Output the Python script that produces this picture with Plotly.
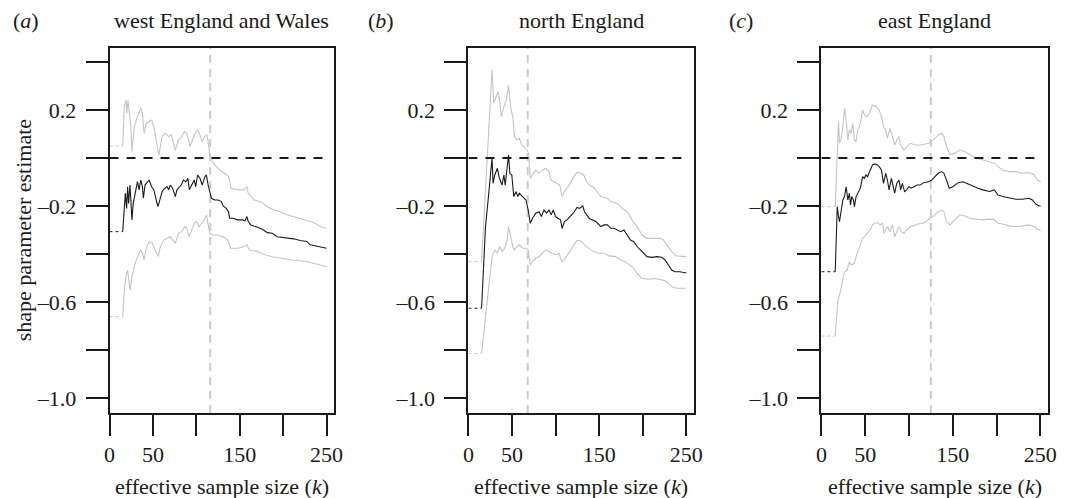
import plotly.graph_objects as go

# ---------------- data ----------------
panel_titles = ["west England and Wales", "north England", "east England"]
panel_letters = ["a", "b", "c"]
k_threshold = [116, 68, 125]

x_tickvals = [0, 50, 100, 150, 200, 250]
x_ticktext = ["0", "50", "", "150", "", "250"]
y_tickvals = [-1.0, -0.8, -0.6, -0.4, -0.2, 0.0, 0.2, 0.4]
y_ticktext = ["\u20131.0", "", "\u20130.6", "", "\u20130.2", "", "0.2", ""]

# panel (a) west England and Wales
a_est_k = [15.2, 18.2, 19.7, 20.8, 22, 23.5, 24.6, 25.8, 27.3, 29.5, 32.2, 34.1, 36, 37.9, 39, 40.9, 43.6, 45.5, 48.5,
           51.1, 53.8, 55.7, 58, 60.6, 63.6, 66.3, 68.2, 70, 72.7, 75.8, 77.7, 79.5, 82.6, 85.2, 87.9, 90.2, 92, 94.7,
           97.7, 99.2, 101.5, 104.2, 106.8, 109.8, 111.7, 113.6, 115.5, 117.4, 121.2, 125, 128.8, 131, 134.5, 137.1,
           138.3, 142, 147.7, 153.4, 156.1, 158.3, 159.8, 162.9, 170.5, 176.1, 181.8, 187.5, 193.2, 198.9, 204.5,
           212.1, 219.7, 227.3, 231.1, 236.7, 242.4, 248.1, 250]
a_est_v = [-0.307, -0.147, -0.21, -0.12, -0.19, -0.113, -0.175, -0.258, -0.189, -0.147, -0.099, -0.133, -0.092, -0.12,
           -0.168, -0.113, -0.099, -0.092, -0.12, -0.133, -0.175, -0.203, -0.175, -0.14, -0.126, -0.12, -0.133, -0.113,
           -0.126, -0.161, -0.133, -0.126, -0.113, -0.092, -0.099, -0.085, -0.133, -0.113, -0.092, -0.12, -0.071,
           -0.085, -0.113, -0.078, -0.071, -0.113, -0.147, -0.168, -0.175, -0.175, -0.182, -0.2, -0.21, -0.224,
           -0.251, -0.251, -0.258, -0.258, -0.262, -0.244, -0.265, -0.279, -0.289, -0.297, -0.311, -0.314, -0.328,
           -0.33, -0.335, -0.337, -0.344, -0.348, -0.362, -0.367, -0.369, -0.376, -0.376]
a_up_k = [15.2, 17, 18.9, 20, 21.2, 22.7, 24.6, 25.8, 28.4, 32.2, 36, 37.9, 39.8, 42.4, 45.5, 48.5, 51.1, 54.9, 56.8,
          60.6, 64.4, 68.2, 71.2, 73.9, 75.8, 79.5, 83.3, 86.4, 89, 90.9, 92.8, 95.5, 98.5, 101.5, 104.2, 106.8, 109.8,
          112.1, 113.6, 115.5, 117.4, 121.2, 126.9, 132.6, 137.1, 140.2, 147.7, 155.3, 158.3, 159.8, 166.7, 174.2,
          181.8, 189.4, 197, 204.5, 210.2, 215.9, 223.5, 231.1, 238.6, 244.3, 250]
a_up_v = [0.05, 0.214, 0.241, 0.186, 0.24, 0.2, 0.13, 0.027, 0.13, 0.172, 0.207, 0.186, 0.103, 0.144, 0.151, 0.158,
          0.13, 0.04, 0.012, 0.089, 0.103, 0.089, 0.096, 0.061, 0.033, 0.075, 0.089, 0.11, 0.103, 0.075, 0.047, 0.075,
          0.103, 0.117, 0.096, 0.068, 0.089, 0.096, 0.068, 0.012, -0.008, -0.029, -0.05, -0.064, -0.078, -0.126,
          -0.133, -0.133, -0.119, -0.147, -0.175, -0.182, -0.203, -0.217, -0.224, -0.237, -0.243, -0.247, -0.255,
          -0.265, -0.275, -0.289, -0.293]
a_lo_k = [15.2, 17, 18.9, 20.8, 22.7, 23.9, 25.8, 28.4, 32.2, 36, 37.9, 39.8, 42.4, 45.5, 49.2, 53, 56, 58.7, 62.5,
          66.3, 70, 72.7, 75.8, 79.5, 83.3, 86.4, 89, 91.7, 94.7, 97.7, 100.4, 103, 106, 109.1, 111.7, 113.6, 115.5,
          119.3, 125, 130.7, 136.4, 139.4, 147.7, 155.3, 158.3, 161, 170.5, 180, 189.4, 198.9, 208.3, 217.8, 227.3,
          234.8, 242.4, 250]
a_lo_v = [-0.661, -0.55, -0.494, -0.467, -0.522, -0.55, -0.494, -0.453, -0.411, -0.383, -0.397, -0.425, -0.376,
          -0.349, -0.355, -0.383, -0.411, -0.369, -0.342, -0.335, -0.328, -0.342, -0.355, -0.314, -0.307, -0.286,
          -0.293, -0.328, -0.3, -0.272, -0.265, -0.286, -0.272, -0.258, -0.238, -0.272, -0.314, -0.321, -0.321,
          -0.328, -0.342, -0.376, -0.376, -0.369, -0.362, -0.383, -0.39, -0.404, -0.414, -0.418, -0.425, -0.428,
          -0.432, -0.439, -0.446, -0.453]

# panel (b) north England
b_est_k = [15.1, 17, 19.6, 22.6, 25.6, 27.1, 28.3, 30.2, 33.2, 35.1, 38.5, 40.7, 42.2, 44.5, 46, 47.5, 49.8, 52, 54.7,
           56.6, 58.4, 62.2, 66, 68.6, 70.9, 73.5, 77.3, 81.1, 83.7, 86.7, 89.7, 92.4, 95, 97.3, 99.9, 102.6, 105.6,
           107.5, 110.1, 113.1, 116.9, 120.7, 124.6, 127.4, 131.2, 133.1, 138.7, 146.3, 151.9, 155.7, 159.5, 163.3,
           167, 170.8, 174.6, 178.4, 182.1, 185.9, 189.7, 193.5, 197.3, 201, 204.8, 210.5, 216.1, 221.8, 225.6,
           229.4, 233.1, 236.9, 242.6, 248.2, 250]
b_est_v = [-0.626, -0.453, -0.286, -0.175, -0.05, 0.0, -0.106, -0.071, -0.043, -0.078, -0.113, -0.071, -0.113, -0.036,
           0.012, -0.064, -0.071, -0.161, -0.14, -0.161, -0.147, -0.161, -0.175, -0.217, -0.272, -0.251, -0.23,
           -0.224, -0.244, -0.217, -0.23, -0.217, -0.237, -0.217, -0.244, -0.251, -0.258, -0.293, -0.265, -0.258,
           -0.244, -0.228, -0.206, -0.21, -0.2, -0.224, -0.252, -0.265, -0.286, -0.279, -0.279, -0.293, -0.293,
           -0.3, -0.307, -0.3, -0.321, -0.342, -0.349, -0.369, -0.383, -0.397, -0.411, -0.414, -0.411, -0.414,
           -0.425, -0.446, -0.467, -0.474, -0.474, -0.478, -0.478]
b_up_k = [15.1, 22.6, 27.1, 29, 32, 33.9, 35.8, 37.7, 40.7, 43.4, 46, 48.3, 50.9, 52.8, 55.8, 58.4, 61.1, 64.1, 67.1,
          69, 70.9, 73.5, 77.3, 81.1, 84.8, 88.6, 92.4, 95, 98.8, 101.8, 104.8, 107.5, 110.1, 113.1, 116.9, 120.7,
          124.6, 129.3, 132.3, 136.8, 144.4, 151.9, 159.5, 163.3, 170.8, 176.5, 182.1, 187.8, 193.5, 199.2, 204.8,
          212.3, 219.9, 223.6, 227.4, 233.1, 238.7, 244.4, 250]
b_up_v = [-0.432, 0.075, 0.367, 0.228, 0.256, 0.276, 0.24, 0.172, 0.214, 0.24, 0.304, 0.214, 0.172, 0.089, 0.075, 0.082,
          0.054, 0.047, 0.033, 0.019, -0.085, -0.071, -0.05, -0.064, -0.05, -0.043, -0.057, -0.092, -0.099, -0.106,
          -0.113, -0.161, -0.14, -0.126, -0.106, -0.08, -0.06, -0.064, -0.071, -0.106, -0.126, -0.161, -0.168,
          -0.182, -0.189, -0.21, -0.224, -0.258, -0.286, -0.321, -0.335, -0.335, -0.335, -0.342, -0.362, -0.39,
          -0.408, -0.408, -0.411]
b_lo_k = [15.1, 27.1, 30.2, 33.2, 35.8, 38.5, 41.5, 44.5, 46, 48.3, 50.9, 52.8, 55.8, 58.4, 62.2, 66, 68.6, 70.9, 73.5,
          77.3, 81.1, 84.8, 88.6, 92.4, 96.2, 99.9, 103.7, 107.5, 111.2, 115, 119.9, 124.6, 129.3, 133.1, 140.6,
          148.2, 155.7, 161.4, 168.9, 174.6, 180.2, 187.8, 193.5, 199.2, 206.7, 214.3, 221.8, 227.4, 233.1, 238.7,
          246.3, 250]
b_lo_v = [-0.814, -0.411, -0.383, -0.397, -0.369, -0.39, -0.376, -0.342, -0.286, -0.328, -0.369, -0.383, -0.369,
          -0.362, -0.376, -0.376, -0.383, -0.446, -0.432, -0.418, -0.411, -0.397, -0.383, -0.39, -0.397, -0.404,
          -0.397, -0.432, -0.418, -0.397, -0.369, -0.343, -0.346, -0.362, -0.383, -0.397, -0.397, -0.408, -0.411,
          -0.425, -0.432, -0.453, -0.481, -0.502, -0.505, -0.502, -0.508, -0.515, -0.536, -0.543, -0.543, -0.543]

# panel (c) east England
c_est_k = [15.8, 18.1, 19.6, 20.7, 22.6, 24.5, 26.4, 28.3, 30.2, 32, 33.2, 34.7, 36.6, 37.7, 39.6, 41.5, 44.5, 47.1, 49,
           50.9, 52.8, 55.8, 58.4, 61.1, 64.1, 66, 68.6, 70.9, 73.5, 75.4, 77.3, 79.9, 82.2, 83.7, 86, 88.6, 90.5,
           92.4, 95, 97.3, 99.9, 102.6, 105.6, 109.4, 113.1, 116.7, 122.2, 126, 129.7, 133.5, 137.3, 139.9, 142.2,
           146, 150.5, 156.2, 161.8, 167.5, 173.1, 178.8, 184.4, 192, 197.6, 201.4, 207, 214.6, 222.1, 229.6, 237.2,
           241, 244.8, 248.5, 250.5]
c_est_v = [-0.474, -0.203, -0.245, -0.265, -0.219, -0.175, -0.161, -0.12, -0.175, -0.147, -0.196, -0.161, -0.175,
           -0.203, -0.161, -0.147, -0.126, -0.078, -0.085, -0.071, -0.078, -0.05, -0.029, -0.025, -0.029, -0.036,
           -0.05, -0.106, -0.064, -0.092, -0.133, -0.085, -0.133, -0.147, -0.106, -0.092, -0.133, -0.106, -0.14,
           -0.133, -0.12, -0.126, -0.12, -0.113, -0.113, -0.103, -0.099, -0.092, -0.078, -0.064, -0.057, -0.064,
           -0.085, -0.126, -0.119, -0.103, -0.099, -0.108, -0.119, -0.126, -0.133, -0.14, -0.133, -0.154, -0.161,
           -0.168, -0.172, -0.172, -0.168, -0.175, -0.192, -0.2, -0.2]
c_up_k = [15.8, 18.1, 19.6, 20.7, 22.6, 24.5, 26.4, 28.3, 30.2, 32, 33.9, 35.8, 37.7, 39.6, 41.5, 44.5, 47.1, 49, 52,
          54.7, 58.4, 62.2, 66, 68.6, 70.9, 73.5, 75.4, 78.4, 81.1, 83.7, 86, 88.6, 90.5, 94.3, 97.3, 101.8, 107.5,
          113.1, 118.8, 122.2, 127.9, 133.5, 137.3, 139.9, 143, 146.8, 152.4, 158.1, 163.8, 169.4, 176.9, 184.4, 192,
          197.6, 201.4, 207, 214.6, 222.1, 229.6, 237.2, 242.9, 246.6, 250.4]
c_up_v = [-0.203, 0.054, 0.151, 0.061, 0.08, 0.13, 0.207, 0.158, 0.075, 0.117, 0.103, 0.144, 0.075, 0.068, 0.117,
          0.144, 0.2, 0.179, 0.172, 0.186, 0.221, 0.214, 0.2, 0.172, 0.13, 0.117, 0.082, 0.123, 0.082, 0.054, 0.075,
          0.089, 0.054, 0.033, 0.047, 0.061, 0.054, 0.054, 0.058, 0.061, 0.075, 0.096, 0.103, 0.089, 0.047, 0.013,
          0.02, 0.033, 0.027, 0.013, 0.0, -0.008, -0.015, -0.022, -0.036, -0.05, -0.057, -0.057, -0.064, -0.061,
          -0.071, -0.092, -0.099]
c_lo_k = [15.8, 18.9, 20.7, 24.5, 26.4, 29.4, 32, 33.9, 37.7, 39.6, 41.5, 44.5, 47.1, 49, 52.8, 55.8, 58.4, 61.1, 64.1,
          67.1, 69.8, 71.6, 73.5, 75.4, 78.4, 81.1, 83.7, 86, 88.6, 91.3, 94.3, 97.3, 101.8, 107.5, 113.1, 116.5,
          122.2, 127.9, 133.5, 137.3, 139.9, 143, 146.8, 152.4, 158.1, 163.8, 169.4, 176.9, 184.4, 192, 197.6, 201.4,
          207, 214.6, 222.1, 229.6, 237.2, 242.9, 246.6, 250.4]
c_lo_v = [-0.742, -0.592, -0.571, -0.508, -0.474, -0.467, -0.432, -0.446, -0.439, -0.411, -0.39, -0.363, -0.335,
          -0.328, -0.314, -0.3, -0.279, -0.272, -0.269, -0.279, -0.272, -0.314, -0.3, -0.286, -0.307, -0.279,
          -0.328, -0.307, -0.286, -0.307, -0.314, -0.3, -0.286, -0.279, -0.272, -0.272, -0.258, -0.242, -0.224,
          -0.217, -0.224, -0.265, -0.279, -0.258, -0.237, -0.242, -0.251, -0.255, -0.258, -0.255, -0.258, -0.272,
          -0.275, -0.283, -0.286, -0.283, -0.279, -0.286, -0.297, -0.3]

series = [
    [(a_est_k, a_est_v), (a_up_k, a_up_v), (a_lo_k, a_lo_v)],
    [(b_est_k, b_est_v), (b_up_k, b_up_v), (b_lo_k, b_lo_v)],
    [(c_est_k, c_est_v), (c_up_k, c_up_v), (c_lo_k, c_lo_v)],
]

# ---------------- figure ----------------
W, H = 1069, 498
x_domains = [(105 / W, 333 / W), (469 / W, 698 / W), (827 / W, 1057 / W)]
y_domain = (1 - 413 / H, 1 - 48 / H)
x_range = [0, 259]
y_range = [-1.0625, 0.458]

FONT = "Liberation Serif, Times New Roman, serif"
FS = 22
INK = "#1a1a1a"
GREY = "#c4c4c4"

fig = go.Figure()
annotations = []
shapes = []

for i in range(3):
    xa = "x" if i == 0 else f"x{i+1}"
    ya = "y" if i == 0 else f"y{i+1}"
    colors = [INK, GREY, GREY]
    # draw gray CIs first, estimate on top
    for j in [1, 2, 0]:
        ks, vs = series[i][j]
        fig.add_trace(go.Scatter(x=[0, ks[0]], y=[vs[0], vs[0]], mode="lines",
                                 line=dict(color=colors[j], width=1, dash="dot"),
                                 xaxis=xa, yaxis=ya, showlegend=False, hoverinfo="skip"))
        fig.add_trace(go.Scatter(x=ks, y=vs, mode="lines",
                                 line=dict(color=colors[j], width=1.1),
                                 xaxis=xa, yaxis=ya, showlegend=False))
    # vertical threshold line
    shapes.append(dict(type="line", xref=xa, yref=f"{ya} domain", x0=k_threshold[i], x1=k_threshold[i],
                       y0=0, y1=1, line=dict(color="#cccccc", width=2, dash="8px,6px"), layer="below"))
    # horizontal zero line
    shapes.append(dict(type="line", xref=xa, yref=ya, x0=0, x1=250, y0=0, y1=0,
                       line=dict(color=INK, width=2, dash="9px,8px"), layer="above"))

    axis_common = dict(showline=True, linecolor=INK, linewidth=2, mirror=True, ticks="outside",
                       tickcolor=INK, tickwidth=2, showgrid=False, zeroline=False,
                       tickfont=dict(family=FONT, size=FS, color=INK), fixedrange=True)
    fig.update_layout(**{
        ("xaxis" if i == 0 else f"xaxis{i+1}"): dict(domain=list(x_domains[i]), range=x_range,
                                                      tickvals=x_tickvals, ticktext=x_ticktext,
                                                      ticklen=21, anchor=ya, **axis_common),
        ("yaxis" if i == 0 else f"yaxis{i+1}"): dict(domain=list(y_domain), range=y_range,
                                                      tickvals=y_tickvals, ticktext=y_ticktext,
                                                      ticklen=22, anchor=xa, ticklabelstandoff=5,
                                                      **axis_common),
    })

    cx = (x_domains[i][0] + x_domains[i][1]) / 2
    annotations.append(dict(text=panel_titles[i], x=cx, y=1 - 20 / H, xref="paper",
                            yref="paper", showarrow=False, xanchor="center", yanchor="middle",
                            font=dict(family=FONT, size=FS, color=INK)))
    annotations.append(dict(text="effective sample size (<i>k</i>)", x=cx, y=1 - 486 / H, xref="paper",
                            yref="paper", showarrow=False, xanchor="center", yanchor="middle",
                            font=dict(family=FONT, size=FS, color=INK)))

letter_x = [20, 380, 745]
for i in range(3):
    annotations.append(dict(text=f"(<i>{panel_letters[i]}</i>)", x=letter_x[i] / W, y=1 - 20 / H,
                            xref="paper", yref="paper", showarrow=False, xanchor="center", yanchor="middle",
                            font=dict(family=FONT, size=FS, color=INK)))

annotations.append(dict(text="shape parameter estimate", x=18 / W, y=(y_domain[0] + y_domain[1]) / 2,
                        xref="paper", yref="paper", showarrow=False, textangle=-90,
                        xanchor="center", yanchor="middle", font=dict(family=FONT, size=FS, color=INK)))

fig.update_layout(width=W, height=H, margin=dict(l=0, r=0, t=0, b=0),
                  paper_bgcolor="white", plot_bgcolor="white",
                  annotations=annotations, shapes=shapes, showlegend=False)

fig.write_html("out.html", config={"displayModeBar": False},
               post_script="document.body.style.margin='0';document.body.style.padding='0';"
                           "document.body.style.overflow='hidden';")
